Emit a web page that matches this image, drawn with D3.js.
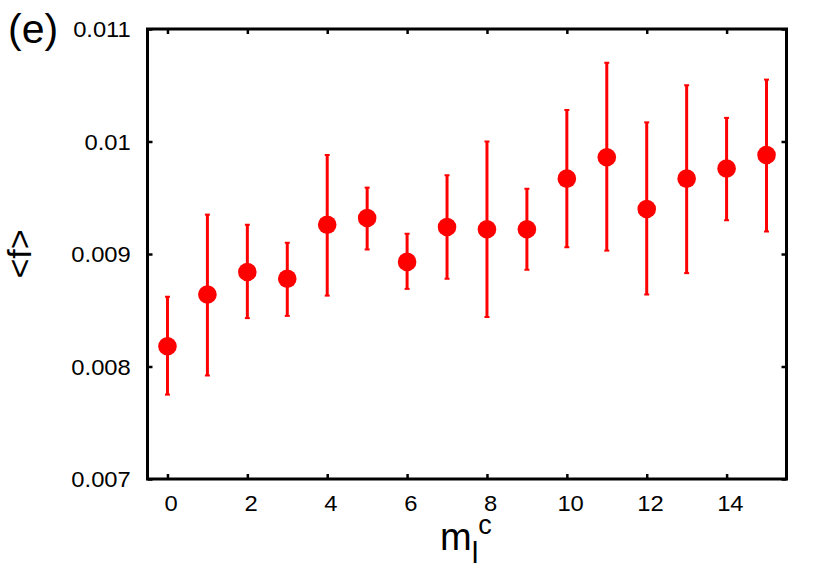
<!DOCTYPE html>
<html>
<head>
<meta charset="utf-8">
<script src="https://cdn.jsdelivr.net/npm/d3@7"></script>
<style>
  html, body { margin: 0; padding: 0; background: #fff; }
  svg { display: block; }
  text { font-family: "Liberation Sans", Arial, Helvetica, sans-serif; fill: #000; }
</style>
</head>
<body>
<svg id="chart" width="830" height="581"></svg>
<script>
// ---- data ----
const xValues = [0, 1, 2, 3, 4, 5, 6, 7, 8, 9, 10, 11, 12, 13, 14, 15];
const meanValues = [0.00818, 0.00864, 0.00884, 0.00878, 0.00926, 0.00932, 0.00893, 0.00924,
                    0.00922, 0.00922, 0.00967, 0.00986, 0.00940, 0.00967, 0.00976, 0.00988];
const upperValues = [0.00862, 0.00935, 0.00926, 0.00910, 0.00988, 0.00959, 0.00918, 0.00970,
                     0.01000, 0.00958, 0.01028, 0.01070, 0.01017, 0.01050, 0.01021, 0.01055];
const lowerValues = [0.00775, 0.00792, 0.00843, 0.00845, 0.00863, 0.00904, 0.00869, 0.00878,
                     0.00844, 0.00886, 0.00906, 0.00903, 0.00864, 0.00883, 0.00930, 0.00920];
const xTicks = [0, 2, 4, 6, 8, 10, 12, 14];
const yTicks = [0.007, 0.008, 0.009, 0.010, 0.011];
const yTickLabels = ["0.007", "0.008", "0.009", "0.01", "0.011"];
const xDomain = [-0.5, 15.5];
const yDomain = [0.007, 0.011];

// ---- layout ----
const L = 147.5, R = 786.5, T = 29, B = 479;
const svg = d3.select("#chart");
const x = d3.scaleLinear().domain(xDomain).range([L, R]);
const y = d3.scaleLinear().domain(yDomain).range([B, T]);
const red = "#ff0000";

const data = xValues.map((v, i) => ({ x: v, m: meanValues[i], hi: upperValues[i], lo: lowerValues[i] }));

// error bars
const g = svg.append("g");
g.selectAll("line.err").data(data).enter().append("line")
  .attr("class", "err")
  .attr("x1", d => x(d.x)).attr("x2", d => x(d.x))
  .attr("y1", d => y(d.lo)).attr("y2", d => y(d.hi))
  .attr("stroke", red).attr("stroke-width", 3);
// caps
["hi", "lo"].forEach(k => {
  g.selectAll("line.cap" + k).data(data).enter().append("line")
    .attr("x1", d => x(d.x) - 2.5).attr("x2", d => x(d.x) + 2.5)
    .attr("y1", d => y(d[k])).attr("y2", d => y(d[k]))
    .attr("stroke", red).attr("stroke-width", 2);
});
// points
g.selectAll("circle").data(data).enter().append("circle")
  .attr("cx", d => x(d.x)).attr("cy", d => y(d.m)).attr("r", 9.3)
  .attr("fill", red);

// axes (ticks inward on all sides)
function styleAxis(sel) {
  sel.select(".domain").remove();
  sel.selectAll(".tick line").attr("stroke", "#000").attr("stroke-width", 2.5);
}
const fontSize = 22;
svg.append("g").attr("transform", `translate(0,${B})`)
  .call(d3.axisBottom(x).tickValues(xTicks).tickSize(-5).tickPadding(0).tickFormat(d3.format("d")))
  .call(styleAxis)
  .call(s => s.selectAll(".tick text").attr("dy", null).attr("y", 32).attr("x", 3)
    .attr("transform", "scale(1.08,1)")
    .attr("font-size", fontSize).attr("font-family", "Liberation Sans, Arial, sans-serif").attr("fill", "#000"));
svg.append("g").attr("transform", `translate(0,${T})`)
  .call(d3.axisTop(x).tickValues(xTicks).tickSize(-5).tickFormat(""))
  .call(styleAxis);
svg.append("g").attr("transform", `translate(${L},0)`)
  .call(d3.axisLeft(y).tickValues(yTicks).tickSize(-5).tickPadding(0).tickFormat((d, i) => yTickLabels[i]))
  .call(styleAxis)
  .call(s => s.selectAll(".tick text").attr("dy", null).attr("x", -15.5).attr("y", 7.5)
    .attr("transform", "scale(1.08,1)")
    .attr("font-size", fontSize).attr("font-family", "Liberation Sans, Arial, sans-serif").attr("fill", "#000"));
svg.append("g").attr("transform", `translate(${R},0)`)
  .call(d3.axisRight(y).tickValues(yTicks).tickSize(-5).tickFormat(""))
  .call(styleAxis);

// frame
svg.append("rect").attr("x", L).attr("y", T).attr("width", R - L).attr("height", B - T)
  .attr("fill", "none").attr("stroke", "#000").attr("stroke-width", 3);

// panel label
svg.append("text").attr("x", 8).attr("y", 43).attr("font-size", 41).text("(e)");

// y label
svg.append("text")
  .attr("transform", `translate(31,${(T + B) / 2}) rotate(-90)`)
  .attr("text-anchor", "middle").attr("font-size", 34).text("<f>");

// x label m_l^c
const xl = svg.append("text").attr("x", 440).attr("y", 550).attr("font-size", 38);
xl.append("tspan").text("m");
xl.append("tspan").attr("font-size", 30).attr("dy", 13).text("l");
xl.append("tspan").attr("font-size", 27).attr("dy", -29).attr("dx", 0).text("c");
</script>
</body>
</html>
